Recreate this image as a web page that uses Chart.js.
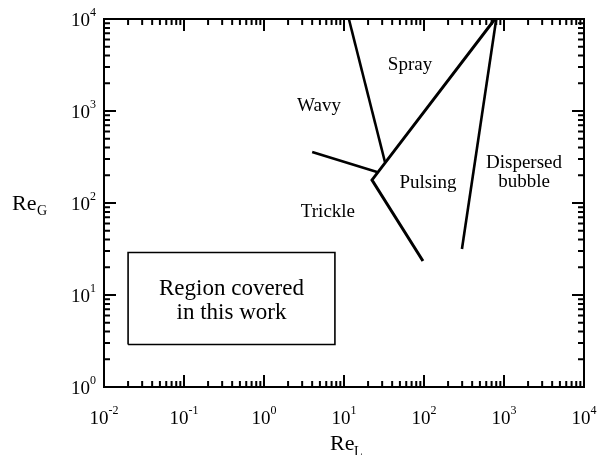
<!DOCTYPE html>
<html>
<head>
<meta charset="utf-8">
<script src="https://cdn.jsdelivr.net/npm/chart.js@4/dist/chart.umd.min.js"></script>
<style>
  body { margin: 0; background: #fff; }
  #wrap { width: 598px; height: 455px; }
</style>
</head>
<body>
<div id="wrap"><canvas id="regimeChart"></canvas></div>
<script>
// boundaries between flow regimes (ReL, ReG)
const wavySprayX = [11.5, 32.5];
const wavySprayY = [10000, 279];
const pulsingX = [770, 22.4, 97];
const pulsingY = [10000, 178, 23.4];
const wavyTrickleX = [4, 25.9];
const wavyTrickleY = [358, 217];
const bubbleX = [800, 298];
const bubbleY = [10000, 31.6];
// region covered in this work
const boxX = [0.02, 7.7, 7.7, 0.02, 0.02];
const boxY = [2.9, 2.9, 29, 29, 2.9];

const regimeNames = ['Spray', 'Wavy', 'Pulsing', 'Trickle'];
const regimeX = [66.8, 4.87, 112, 6.3];
const regimeY = [3162, 1133, 165, 80];

const xTickExp = [-2, -1, 0, 1, 2, 3, 4];
const yTickExp = [0, 1, 2, 3, 4];

function pts(xs, ys) {
    return xs.map((x, i) => ({ x: x, y: ys[i] }));
}

const serif = '"Liberation Serif", "DejaVu Serif", serif';

function powLabel(ctx, exp, x, y, align) {
    ctx.font = '19px ' + serif;
    const base = ctx.measureText('10').width;
    ctx.font = '12px ' + serif;
    const sup = ctx.measureText(String(exp)).width;
    const w = base + sup;
    let left = x - w / 2;
    if (align === 'right') left = x - w;
    ctx.textAlign = 'left';
    ctx.textBaseline = 'alphabetic';
    ctx.font = '19px ' + serif;
    ctx.fillText('10', left, y + 7);
    ctx.font = '12px ' + serif;
    ctx.fillText(String(exp).replace('-', '\u2010'), left + base, y - 3);
}

const framePlugin = {
    id: 'frame',
    afterDraw(chart) {
        const ctx = chart.ctx;
        const xs = chart.scales.x, ys = chart.scales.y;
        const a = chart.chartArea;
        ctx.save();
        ctx.strokeStyle = '#000';
        ctx.fillStyle = '#000';
        ctx.lineWidth = 2;
        ctx.strokeRect(a.left, a.top, a.right - a.left, a.bottom - a.top);

        // inward ticks on all four sides
        ctx.beginPath();
        for (let k = -2; k < 4; k++) {
            for (let m = 1; m <= 10; m++) {
                const px = xs.getPixelForValue(m * Math.pow(10, k));
                const len = (m === 1 || m === 10) ? 12 : 6;
                ctx.moveTo(px, a.bottom); ctx.lineTo(px, a.bottom - len);
                ctx.moveTo(px, a.top); ctx.lineTo(px, a.top + len);
            }
        }
        for (let k = 0; k < 4; k++) {
            for (let m = 1; m <= 10; m++) {
                const py = ys.getPixelForValue(m * Math.pow(10, k));
                const len = (m === 1 || m === 10) ? 12 : 6;
                ctx.moveTo(a.left, py); ctx.lineTo(a.left + len, py);
                ctx.moveTo(a.right, py); ctx.lineTo(a.right - len, py);
            }
        }
        ctx.stroke();

        // tick labels
        xTickExp.forEach(e => powLabel(ctx, e, xs.getPixelForValue(Math.pow(10, e)), a.bottom + 30, 'center'));
        yTickExp.forEach(e => powLabel(ctx, e, a.left - 8, ys.getPixelForValue(Math.pow(10, e)), 'right'));

        // axis titles
        ctx.textAlign = 'left';
        ctx.textBaseline = 'alphabetic';
        ctx.font = '22px ' + serif;
        ctx.fillText('Re', 12, 210);
        ctx.font = '14px ' + serif;
        ctx.fillText('G', 37, 215);
        ctx.font = '22px ' + serif;
        const tx = xs.getPixelForValue(10) - 14;
        ctx.fillText('Re', tx, 450);
        ctx.font = '14px ' + serif;
        ctx.fillText('L', tx + 24, 456);

        // regime names
        ctx.textAlign = 'center';
        ctx.textBaseline = 'middle';
        ctx.font = '19px ' + serif;
        regimeNames.forEach((n, i) => {
            ctx.fillText(n, xs.getPixelForValue(regimeX[i]), ys.getPixelForValue(regimeY[i]));
        });
        const bx = xs.getPixelForValue(1778), by = ys.getPixelForValue(217);
        ctx.fillText('Dispersed', bx, by - 9);
        ctx.fillText('bubble', bx, by + 10);

        ctx.font = '23px ' + serif;
        const rx = (xs.getPixelForValue(boxX[0]) + xs.getPixelForValue(boxX[1])) / 2;
        const ry = (ys.getPixelForValue(boxY[0]) + ys.getPixelForValue(boxY[2])) / 2;
        ctx.fillText('Region covered', rx, ry - 10);
        ctx.fillText('in this work', rx, ry + 14);
        ctx.restore();
    }
};

function lineSet(data, width) {
    return {
        data: data,
        showLine: true,
        borderColor: '#000',
        borderWidth: width,
        pointRadius: 0,
        fill: false,
        tension: 0
    };
}

new Chart(document.getElementById('regimeChart'), {
    type: 'scatter',
    data: {
        datasets: [
            lineSet(pts(wavySprayX, wavySprayY), 2.6),
            lineSet(pts(pulsingX, pulsingY), 3),
            lineSet(pts(wavyTrickleX, wavyTrickleY), 2.6),
            lineSet(pts(bubbleX, bubbleY), 2.6),
            lineSet(pts(boxX, boxY), 1.6)
        ]
    },
    options: {
        responsive: true,
        maintainAspectRatio: false,
        animation: false,
        layout: { padding: { left: 104, top: 19, right: 14, bottom: 68 } },
        plugins: { legend: { display: false }, tooltip: { enabled: false } },
        scales: {
            x: { type: 'logarithmic', min: 0.01, max: 10000, display: false },
            y: { type: 'logarithmic', min: 1, max: 10000, display: false }
        }
    },
    plugins: [framePlugin]
});
</script>
</body>
</html>
